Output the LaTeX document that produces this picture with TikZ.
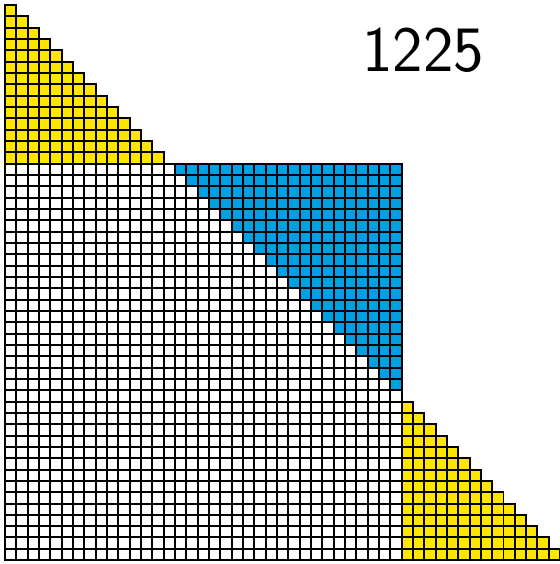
\documentclass[tikz,border=0pt]{standalone}
\usepackage{tikz}
\definecolor{triyellow}{RGB}{255,230,0}
\definecolor{triblue}{RGB}{0,160,227}
\tikzset{
  cell/.style ={draw=black,line width=2pt},
  ycell/.style={cell,fill=triyellow},
  bcell/.style={cell,fill=triblue},
  wcell/.style={cell,fill=white},
  count/.style={font=\sffamily\fontsize{65}{78}\selectfont,inner sep=0pt},
}
\begin{document}
\begin{tikzpicture}[x=0.4cm,y=-0.4cm]
  \useasboundingbox (-0.44,-0.44) rectangle (48.98,49.34);
  % top staircase
  \foreach \r in {1,...,14}
    \foreach \c in {1,...,\r}
      \draw[ycell] (\c-1,\r-1) rectangle ++(1,1);
  % square part inside the triangle
  \foreach \r in {15,...,49}{
    \pgfmathtruncatemacro\m{min(\r,35)}
    \foreach \c in {1,...,\m}
      \draw[wcell] (\c-1,\r-1) rectangle ++(1,1);
  }
  % gap that completes the square
  \foreach \r in {15,...,34}{
    \pgfmathtruncatemacro\s{\r+1}
    \foreach \c in {\s,...,35}
      \draw[bcell] (\c-1,\r-1) rectangle ++(1,1);
  }
  % bottom staircase
  \foreach \r in {36,...,49}
    \foreach \c in {36,...,\r}
      \draw[ycell] (\c-1,\r-1) rectangle ++(1,1);

  \node[count] (total) at (36.9,3.97) {1225};
\end{tikzpicture}
\end{document}
